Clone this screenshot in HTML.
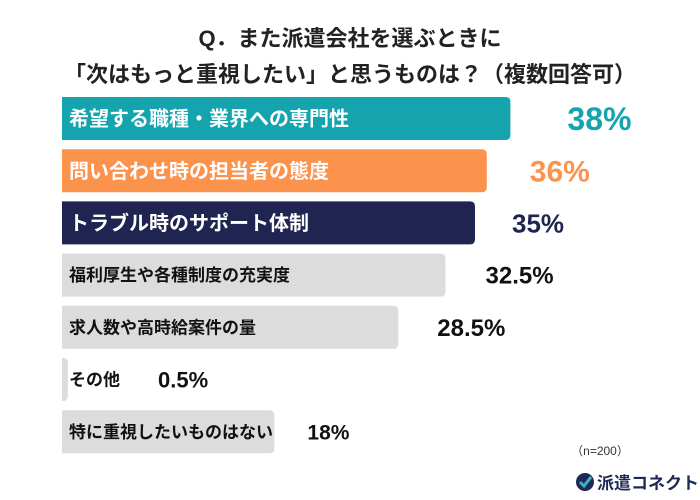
<!DOCTYPE html>
<html><head><meta charset="utf-8"><style>
body{margin:0;background:#fff;}
svg{display:block;font-family:"Liberation Sans","Noto Sans CJK JP",sans-serif;}
</style></head><body>
<svg id="c" width="700" height="500" viewBox="0 0 700 500">
<text x="350" y="46" text-anchor="middle" font-size="22" font-weight="bold" fill="#222">Q．また派遣会社を選ぶときに</text>
<text x="350" y="82" text-anchor="middle" font-size="22" font-weight="bold" fill="#222">「次はもっと重視したい」と思うものは？（複数回答可）</text>
<text x="600" y="455" text-anchor="middle" font-size="12" fill="#333">（n=200）</text>
<g>
<circle cx="585" cy="482" r="9" fill="#1e2a55"/>
<path d="M580 482 l4 4 l7 -9" stroke="#3bb3c3" stroke-width="3" fill="none"/>
<text x="597" y="489" font-size="17" font-weight="bold" fill="#1e2a55">派遣コネクト</text>
</g>
</svg>
<script>
const categories=["希望する職種・業界への専門性","問い合わせ時の担当者の態度","トラブル時のサポート体制","福利厚生や各種制度の充実度","求人数や高時給案件の量","その他","特に重視したいものはない"];
const values=[38,36,35,32.5,28.5,0.5,18];
const valueLabels=["38%","36%","35%","32.5%","28.5%","0.5%","18%"];
const barColors=["#15a3ae","#fb934d","#1f2550","#dcdcdc","#dcdcdc","#dcdcdc","#dcdcdc"];
const textColors=["#fff","#fff","#fff","#111","#111","#111","#111"];
const labelColors=["#15a3ae","#fb934d","#1f2550","#111","#111","#111","#111"];
const labelSizes=[32,30,26,24,24,22,21];
const labelOffsets=[57,43,37,40,39,40,33];
const svg=document.getElementById('c');
const NS="http://www.w3.org/2000/svg";
const x0=62,pxPer=11.8;
const xScale=v=>x0+v*pxPer;
const yTop=i=>97+i*52.2;
const bh=43;
function mk(t,a){const e=document.createElementNS(NS,t);for(const k in a)e.setAttribute(k,a[k]);svg.appendChild(e);return e;}
values.forEach((v,i)=>{
  const y=yTop(i),xe=xScale(v);
  const r=mk('path',{d:`M${x0} ${y} H${xe-5} Q${xe} ${y} ${xe} ${y+5} V${y+bh-5} Q${xe} ${y+bh} ${xe-5} ${y+bh} H${x0} Z`,fill:barColors[i]});
  
  
  const fs=i<3?20:17;
  const t=mk('text',{x:x0+7,y:y+bh/2+fs*0.36,'font-size':fs,'font-weight':'bold',fill:textColors[i]});
  t.textContent=categories[i];
  
  
  const tEnd=x0+7+t.getComputedTextLength();
  const lx=(tEnd>xe+10)?tEnd+38:xe+labelOffsets[i];
  const l=mk('text',{x:lx,y:y+bh/2+labelSizes[i]*0.36,'font-size':labelSizes[i],'font-weight':'bold',fill:labelColors[i]});
  l.textContent=valueLabels[i];
  
  
});
</script>
</body></html>
